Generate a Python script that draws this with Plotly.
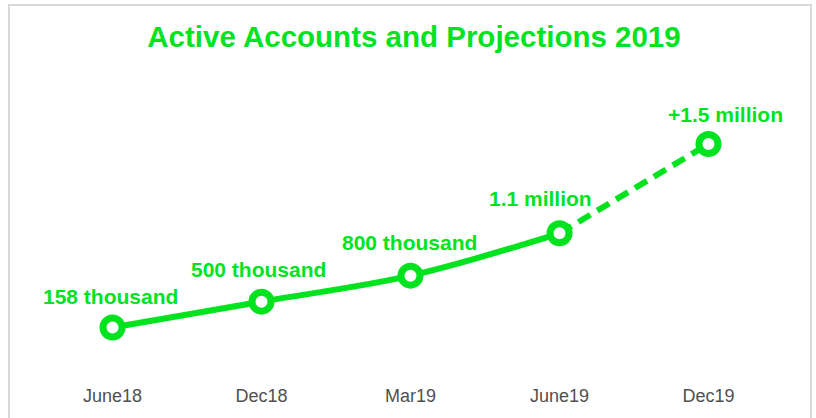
import plotly.graph_objects as go

# ---- data ----
periods = ["June18", "Dec18", "Mar19", "June19", "Dec19"]
# plotted heights (thousands)
accounts = [158, 347, 537, 847, 1500]
point_labels = ["158 thousand", "500 thousand", "800 thousand", "1.1 million", "+1.5 million"]
actual_count = 4  # first four periods are actuals, last is projection

GREEN = "#00E31E"
W, H = 816, 418
ML, MR, MT, MB = 38, 33, 80, 48
PW, PH = W - ML - MR, H - MT - MB

fig = go.Figure()

# actuals: solid smoothed line
fig.add_trace(go.Scatter(
    x=periods[:actual_count], y=accounts[:actual_count],
    mode="lines", line=dict(color=GREEN, width=6, shape="spline", smoothing=1),
    hoverinfo="skip", showlegend=False,
))
# projection: dashed line
fig.add_trace(go.Scatter(
    x=periods[actual_count - 1:], y=accounts[actual_count - 1:],
    mode="lines", line=dict(color=GREEN, width=6, dash="14px,8px"),
    hoverinfo="skip", showlegend=False,
))
# markers
fig.add_trace(go.Scatter(
    x=periods, y=accounts, mode="markers",
    marker=dict(size=19, color="white", line=dict(color=GREEN, width=7)),
    showlegend=False,
))

# labels (style offsets kept separate from data)
xshifts = [-2, -3, -1, -19, 17]
yshifts = [31, 32, 33, 35, 29]
for p, v, t, dx, dy in zip(periods, accounts, point_labels, xshifts, yshifts):
    fig.add_annotation(
        x=p, y=v, text=f"<b>{t}</b>", showarrow=False,
        xshift=dx, yshift=dy, yanchor="middle", xanchor="center",
        font=dict(family="Liberation Sans, Arial", size=21, color=GREEN),
    )

# outer light-gray frame
def px_x(px):
    return (px - ML) / PW

def px_y(py):
    return (H - MB - py) / PH

fig.add_shape(
    type="rect", xref="paper", yref="paper",
    x0=px_x(9), x1=px_x(811), y0=px_y(430), y1=px_y(5),
    line=dict(color="#D9D9D9", width=2), fillcolor="rgba(0,0,0,0)", layer="below",
)

fig.update_layout(
    width=W, height=H,
    margin=dict(l=ML, r=MR, t=MT, b=MB, pad=0),
    paper_bgcolor="white", plot_bgcolor="white",
    title=dict(
        text="<b>Active Accounts and Projections 2019</b>",
        x=414 / W, xref="container", xanchor="center",
        y=1 - 37 / H, yref="container", yanchor="middle",
        font=dict(family="Liberation Sans, Arial", size=29.5, color=GREEN),
    ),
    xaxis=dict(
        type="category", range=[-0.5, 4.5], showgrid=False, zeroline=False,
        showline=False, ticks="", ticklabelstandoff=13,
        tickfont=dict(family="Liberation Sans, Arial", size=18, color="#505050"),
    ),
    yaxis=dict(range=[-153, 1968], visible=False, showgrid=False, zeroline=False),
)

fig.write_html("out.html", config={"displayModeBar": False},
               post_script="document.body.style.margin='0';")
